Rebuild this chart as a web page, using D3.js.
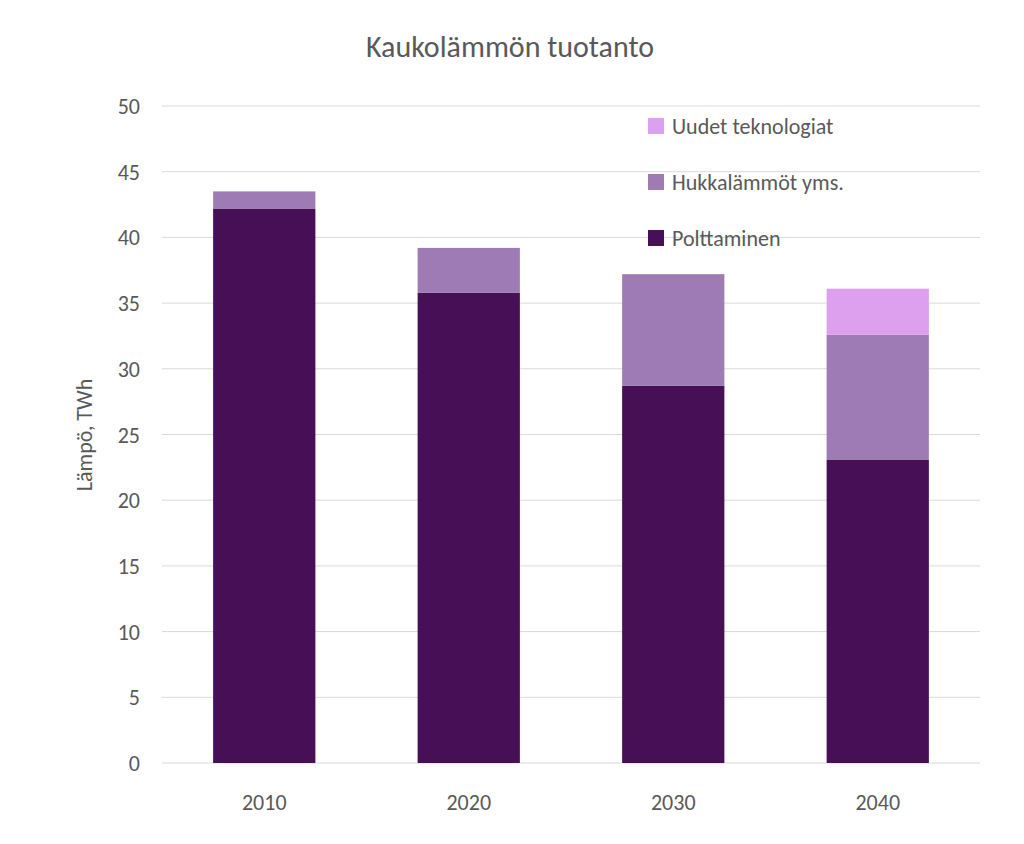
<!DOCTYPE html>
<html><head><meta charset="utf-8">
<script src="https://cdn.jsdelivr.net/npm/d3@7"></script>
<style>body{margin:0;background:#fff}</style></head>
<body><svg id="c" width="1024" height="844"></svg>
<script>
const years = ["2010","2020","2030","2040"];
const polttaminen = [42.2, 35.8, 28.7, 23.1];
const hukkalammot = [1.3, 3.4, 8.5, 9.5];
const uudet = [0, 0, 0, 3.5];
const yTicks = [0,5,10,15,20,25,30,35,40,45,50];
const seriesNames = ["Polttaminen","Hukkalämmöt yms.","Uudet teknologiat"];
const colors = ["#470f55","#9e7bb5","#dda0ee"];

const svg = d3.select("#c");
const font = "Calibri, Carlito, 'Liberation Sans', 'Open Sans', sans-serif";
const x = d3.scaleBand().domain(years).range([162,980]).paddingInner(0.5).paddingOuter(0.25);
const y = d3.scaleLinear().domain([0,50]).range([763,106]);

svg.append("g").selectAll("line").data(yTicks).join("line")
  .attr("x1",162).attr("x2",980).attr("y1",d=>y(d)).attr("y2",d=>y(d))
  .attr("stroke","#d9d9d9").attr("stroke-width",1);
svg.append("g").selectAll("text").data(yTicks).join("text")
  .attr("x",140).attr("y",d=>y(d)+8).attr("text-anchor","end")
  .attr("font-family",font).attr("font-size",22).attr("fill","#595959").text(d=>d);

const table = years.map((yr,i)=>({year:yr, s0:polttaminen[i], s1:hukkalammot[i], s2:uudet[i]}));
const stack = d3.stack().keys(["s0","s1","s2"])(table);
svg.append("g").selectAll("g").data(stack).join("g").attr("fill",(d,i)=>colors[i])
  .selectAll("rect").data(d=>d).join("rect")
  .attr("x",d=>x(d.data.year)).attr("width",x.bandwidth())
  .attr("y",d=>y(d[1])).attr("height",d=>y(d[0])-y(d[1]));

svg.append("g").selectAll("text").data(years).join("text")
  .attr("x",d=>x(d)+x.bandwidth()/2).attr("y",810).attr("text-anchor","middle")
  .attr("font-family",font).attr("font-size",22).attr("fill","#595959").text(d=>d);

svg.append("text").attr("x",510).attr("y",57).attr("text-anchor","middle")
  .attr("font-family",font).attr("font-size",30).attr("fill","#595959").text("Kaukolämmön tuotanto");
svg.append("text").attr("transform","translate(92,435) rotate(-90)").attr("text-anchor","middle")
  .attr("font-family",font).attr("font-size",22).attr("fill","#595959").text("Lämpö, TWh");

const leg = [2,1,0];
leg.forEach((si,k)=>{
  const ly = 126 + k*56;
  svg.append("rect").attr("x",648).attr("y",ly-8).attr("width",16).attr("height",16).attr("fill",colors[si]);
  svg.append("text").attr("x",672).attr("y",ly+8).attr("font-family",font).attr("font-size",22)
    .attr("fill","#595959").text(seriesNames[si]);
});
</script></body></html>
